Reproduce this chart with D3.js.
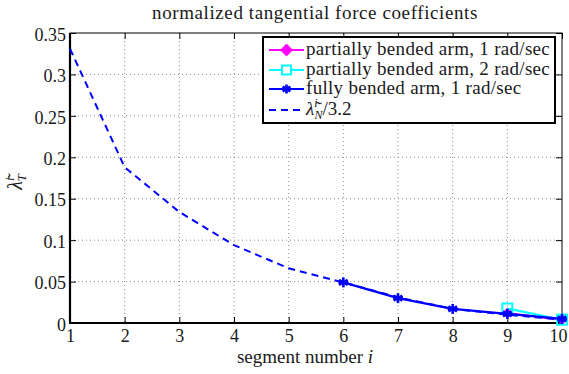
<!DOCTYPE html>
<html>
<head>
<meta charset="utf-8">
<script src="https://cdn.jsdelivr.net/npm/d3@7"></script>
<style>
  html, body { margin: 0; padding: 0; background: #fff; }
  svg { display: block; }
</style>
</head>
<body>
<svg id="chart" width="569" height="374"></svg>
<script>
// Segment indices along the arm
const segments = [1, 2, 3, 4, 5, 6, 7, 8, 9, 10];
// Normal coefficients divided by 3.2 (dashed reference curve)
const normalScaled = [0.331, 0.188, 0.134, 0.094, 0.066, 0.049, 0.031, 0.017, 0.010, 0.004];
// Tangential coefficients per configuration
const fullySegments = [6, 7, 8, 9, 10];
const fully1 = [0.049, 0.030, 0.017, 0.011, 0.005];
const partialSegments = [9, 10];
const partial1 = [0.012, 0.004];
const partial2 = [0.0175, 0.004];
// Axis ticks
const xTicks = [1, 2, 3, 4, 5, 6, 7, 8, 9, 10];
const yTicks = [0, 0.05, 0.1, 0.15, 0.2, 0.25, 0.3, 0.35];
const yTickLabels = ["0", "0.05", "0.1", "0.15", "0.2", "0.25", "0.3", "0.35"];

const FONT = "'Liberation Serif'";
const INK = "#1a1a1a";
const svg = d3.select("#chart");
const L = 70, R = 562, T = 33, B = 323;
const x = d3.scaleLinear().domain([1, 10]).range([L, R]);
const y = d3.scaleLinear().domain([0, 0.35]).range([B, T]);

// dotted grid
const grid = svg.append("g");
grid.selectAll("line.vx").data(xTicks.slice(1, -1)).join("line")
  .attr("x1", d => x(d)).attr("x2", d => x(d)).attr("y1", T).attr("y2", B)
  .attr("stroke", "#8a8a8a").attr("stroke-width", 1).attr("stroke-dasharray", "1,3");
grid.selectAll("line.hy").data(yTicks.slice(1, -1)).join("line")
  .attr("x1", L).attr("x2", R).attr("y1", d => y(d)).attr("y2", d => y(d))
  .attr("stroke", "#8a8a8a").attr("stroke-width", 1).attr("stroke-dasharray", "1,3");

// axes with inward ticks on all four sides
const fs = 18;
const xAxis = svg.append("g").attr("transform", `translate(0,${B})`)
  .call(d3.axisBottom(x).tickValues(xTicks).tickSize(-6).tickPadding(6).tickFormat(d3.format("d")));
const xAxisTop = svg.append("g").attr("transform", `translate(0,${T})`)
  .call(d3.axisTop(x).tickValues(xTicks).tickSize(-6).tickFormat(""));
const yAxis = svg.append("g").attr("transform", `translate(${L},0)`)
  .call(d3.axisLeft(y).tickValues(yTicks).tickSize(-6).tickPadding(4).tickFormat((d, i) => yTickLabels[i]));
const yAxisRight = svg.append("g").attr("transform", `translate(${R},0)`)
  .call(d3.axisRight(y).tickValues(yTicks).tickSize(-6).tickFormat(""));
[xAxis, xAxisTop, yAxis, yAxisRight].forEach(g => {
  g.select(".domain").remove();
  g.selectAll(".tick line").attr("stroke", "#000").attr("stroke-width", 1);
  g.selectAll(".tick text").attr("fill", INK).attr("font-size", fs)
    .style("font-family", FONT);
});
yAxis.selectAll(".tick text").attr("dy", "0.4em");
// nudge the last x label so it stays on the canvas
xAxis.selectAll(".tick text").filter(d => d === 10).attr("dx", -4);

// frame: thicker left and bottom
svg.append("rect").attr("x", L).attr("y", T).attr("width", R - L).attr("height", B - T)
  .attr("fill", "none").attr("stroke", "#000").attr("stroke-width", 1);
svg.append("path").attr("d", `M${L},${T}V${B}H${R}`)
  .attr("fill", "none").attr("stroke", "#000").attr("stroke-width", 2.2);

const line = d3.line().x(d => x(d[0])).y(d => y(d[1]));
const plot = svg.append("g");
const zip = (xs, ys) => xs.map((s, i) => [s, ys[i]]);

// partially bended arm, 1 rad/sec
const p1 = zip(partialSegments, partial1);
plot.append("path").attr("d", line(p1)).attr("fill", "none").attr("stroke", "#ff00ff").attr("stroke-width", 2);
plot.selectAll("path.dia").data(p1).join("path")
  .attr("d", d3.symbol(d3.symbolDiamond2, 60))
  .attr("transform", d => `translate(${x(d[0])},${y(d[1])})`)
  .attr("fill", "#ff00ff").attr("stroke", "#ff00ff");

// partially bended arm, 2 rad/sec
const p2 = zip(partialSegments, partial2);
plot.append("path").attr("d", line(p2)).attr("fill", "none").attr("stroke", "#00ffff").attr("stroke-width", 2);
plot.selectAll("rect.sq").data(p2).join("rect")
  .attr("x", d => x(d[0]) - 5).attr("y", d => y(d[1]) - 5).attr("width", 10).attr("height", 10)
  .attr("fill", "none").attr("stroke", "#00ffff").attr("stroke-width", 2);

// fully bended arm, 1 rad/sec
const f1 = zip(fullySegments, fully1);
plot.append("path").attr("d", line(f1)).attr("fill", "none").attr("stroke", "#0000ff").attr("stroke-width", 2.2);
function asterisk(g, cx, cy, r) {
  const a = [0, 60, 120].map(t => t * Math.PI / 180);
  a.forEach(t => g.append("line")
    .attr("x1", cx - r * Math.sin(t)).attr("y1", cy - r * Math.cos(t))
    .attr("x2", cx + r * Math.sin(t)).attr("y2", cy + r * Math.cos(t))
    .attr("stroke", "#0000ff").attr("stroke-width", 2.6));
  g.append("line").attr("x1", cx - r).attr("x2", cx + r).attr("y1", cy).attr("y2", cy)
    .attr("stroke", "#0000ff").attr("stroke-width", 2.6);
}
f1.forEach(d => asterisk(plot, x(d[0]), y(d[1]), 5));

// normal coefficients scaled by 1/3.2
const n = zip(segments, normalScaled);
plot.append("path").attr("d", line(n)).attr("fill", "none").attr("stroke", "#0000ff")
  .attr("stroke-width", 2).attr("stroke-dasharray", "7,5");

// title and axis labels
svg.append("text").attr("x", 315).attr("y", 19).attr("text-anchor", "middle")
  .attr("font-size", 19).attr("letter-spacing", 0.6).style("font-family", FONT).attr("fill", INK)
  .text("normalized tangential force coefficients");
const xl = svg.append("text").attr("x", 305).attr("y", 363).attr("text-anchor", "middle")
  .attr("font-size", 19).style("font-family", FONT).attr("fill", INK);
xl.append("tspan").text("segment number ");
xl.append("tspan").attr("font-style", "italic").text("i");

const yl = svg.append("text").attr("transform", "translate(22,182) rotate(-90)")
  .attr("text-anchor", "middle").attr("font-size", 20).style("font-family", FONT).attr("fill", INK);
yl.append("tspan").attr("font-style", "italic").text("\u03BB\u0303");
yl.append("tspan").attr("font-style", "italic").attr("font-size", 13).attr("dy", -8).text("i");
yl.append("tspan").attr("font-style", "italic").attr("font-size", 13).attr("dx", -4).attr("dy", 12).text("T");

// legend
const lg = svg.append("g");
const lx = 263, ly = 37, lw = 292, lh = 86;
lg.append("rect").attr("x", lx).attr("y", ly).attr("width", lw).attr("height", lh)
  .attr("fill", "#fff").attr("stroke", "#000").attr("stroke-width", 2);
const rows = [ly + 13, ly + 33, ly + 52, ly + 73];
const sx1 = lx + 6, sx2 = lx + 41, smid = (sx1 + sx2) / 2, tx = lx + 43;
// row 1
lg.append("line").attr("x1", sx1).attr("x2", sx2).attr("y1", rows[0]).attr("y2", rows[0])
  .attr("stroke", "#ff00ff").attr("stroke-width", 2);
lg.append("path").attr("d", d3.symbol(d3.symbolDiamond2, 90)).attr("transform", `translate(${smid},${rows[0]})`)
  .attr("fill", "#ff00ff").attr("stroke", "#ff00ff");
// row 2
lg.append("line").attr("x1", sx1).attr("x2", sx2).attr("y1", rows[1]).attr("y2", rows[1])
  .attr("stroke", "#00ffff").attr("stroke-width", 2);
lg.append("rect").attr("x", smid - 4.5).attr("y", rows[1] - 4.5).attr("width", 9).attr("height", 9)
  .attr("fill", "#fff").attr("stroke", "#00ffff").attr("stroke-width", 2);
// row 3
lg.append("line").attr("x1", sx1).attr("x2", sx2).attr("y1", rows[2]).attr("y2", rows[2])
  .attr("stroke", "#0000ff").attr("stroke-width", 2.2);
asterisk(lg, smid, rows[2], 4.5);
// row 4
lg.append("line").attr("x1", sx1).attr("x2", sx2).attr("y1", rows[3]).attr("y2", rows[3])
  .attr("stroke", "#0000ff").attr("stroke-width", 2).attr("stroke-dasharray", "7,5");

const legendLabels = ["partially bended arm, 1 rad/sec", "partially bended arm, 2 rad/sec", "fully bended arm, 1 rad/sec"];
legendLabels.forEach((t, i) => lg.append("text").attr("x", tx).attr("y", rows[i] + 5)
  .attr("font-size", 19).attr("letter-spacing", 0.3).style("font-family", FONT).attr("fill", INK).text(t));
const l4 = lg.append("text").attr("x", tx).attr("y", rows[3] + 5).attr("font-size", 19)
  .style("font-family", FONT).attr("fill", INK);
l4.append("tspan").attr("font-style", "italic").text("\u03BB\u0303");
l4.append("tspan").attr("font-style", "italic").attr("font-size", 12).attr("dy", -8).text("i");
l4.append("tspan").attr("font-style", "italic").attr("font-size", 12).attr("dx", -3).attr("dy", 12).text("N");
l4.append("tspan").attr("dy", -4).text("/3.2");
</script>
</body>
</html>
